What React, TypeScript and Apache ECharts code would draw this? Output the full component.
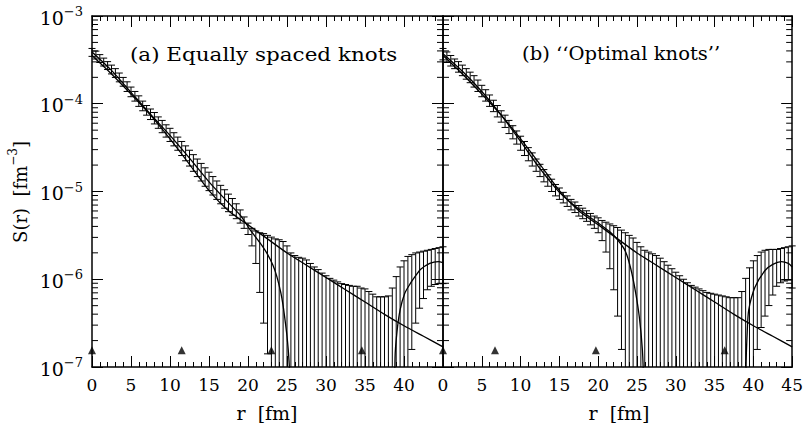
import React, { useEffect, useRef } from "react";
import * as echarts from "echarts";

const FONT = "DejaVu Serif";

// r grid of the imaged source points [fm]
const rGrid = [0,0.5,1,1.5,2,2.5,3,3.5,4,4.5,5,5.5,6,6.5,7,7.5,8,8.5,9,9.5,10,10.5,11,11.5,12,12.5,13,13.5,14,14.5,15,15.5,16,16.5,17,17.5,18,18.5,19,19.5,20,20.5,21,21.5,22,22.5,23,23.5,24,24.5,25,25.5,26,26.5,27,27.5,28,28.5,29,29.5,30,30.5,31,31.5,32,32.5,33,33.5,34,34.5,35,35.5,36,36.5,37,37.5,38,38.5,39,39.5,40,40.5,41,41.5,42,42.5,43,43.5,44,44.5,45];

// panel (a): log10 of upper / lower ends of the error bars (null = below 1e-7)
const logUpperA = [
  -3.37,-3.40,-3.44,-3.48,-3.52,-3.56,-3.60,-3.65,-3.70,-3.75,
  -3.81,-3.86,-3.91,-3.97,-4.02,-4.06,-4.10,-4.15,-4.19,-4.24,
  -4.28,-4.33,-4.38,-4.43,-4.48,-4.53,-4.58,-4.63,-4.68,-4.73,
  -4.78,-4.83,-4.88,-4.93,-4.98,-5.03,-5.08,-5.14,-5.21,-5.29,
  -5.36,-5.42,-5.45,-5.47,-5.48,-5.50,-5.52,-5.54,-5.55,-5.57,
  -5.62,-5.70,-5.73,-5.75,-5.76,-5.78,-5.82,-5.86,-5.89,-5.93,
  -5.96,-5.99,-6.01,-6.03,-6.05,-6.06,-6.07,-6.08,-6.08,-6.10,
  -6.11,-6.14,-6.17,-6.20,-6.20,-6.20,-6.19,-6.10,-5.97,-5.86,
  -5.79,-5.74,-5.72,-5.70,-5.69,-5.68,-5.67,-5.66,-5.65,-5.64,
  -5.63
];
const logLowerA = [
  -3.46,-3.49,-3.53,-3.57,-3.61,-3.66,-3.70,-3.75,-3.80,-3.86,
  -3.92,-3.97,-4.03,-4.08,-4.13,-4.18,-4.23,-4.28,-4.33,-4.38,
  -4.43,-4.48,-4.53,-4.59,-4.65,-4.71,-4.77,-4.83,-4.88,-4.94,
  -4.99,-5.04,-5.09,-5.14,-5.19,-5.23,-5.27,-5.31,-5.36,-5.42,
  -5.49,-5.62,-5.82,-6.15,-6.50,-6.85,
  null,null,null,null,null,null,null,null,null,null,
  null,null,null,null,null,null,null,null,null,null,
  null,null,null,null,null,null,null,null,null,null,
  null,null,null,null,null,null,
  -6.80,-6.50,-6.33,-6.22,-6.12,-6.08,-6.06,-6.05,-6.05
];

// panel (b)
const logUpperB = [
  -3.37,-3.41,-3.45,-3.49,-3.52,-3.56,-3.60,-3.64,-3.68,-3.73,
  -3.79,-3.84,-3.90,-3.96,-4.02,-4.08,-4.13,-4.19,-4.25,-4.31,
  -4.37,-4.43,-4.50,-4.56,-4.63,-4.69,-4.75,-4.81,-4.86,-4.92,
  -4.96,-5.01,-5.05,-5.09,-5.12,-5.16,-5.19,-5.22,-5.25,-5.28,
  -5.30,-5.33,-5.35,-5.37,-5.39,-5.41,-5.44,-5.47,-5.50,-5.53,
  -5.58,-5.63,-5.67,-5.69,-5.71,-5.73,-5.76,-5.80,-5.84,-5.88,
  -5.92,-5.96,-6.00,-6.04,-6.07,-6.09,-6.11,-6.13,-6.15,-6.16,
  -6.17,-6.18,-6.19,-6.20,-6.21,-6.21,-6.21,-6.14,-5.99,-5.87,
  -5.79,-5.73,-5.69,-5.67,-5.66,-5.66,-5.66,-5.65,-5.64,-5.63,
  -5.62
];
const logLowerB = [
  -3.50,-3.53,-3.57,-3.60,-3.64,-3.68,-3.72,-3.76,-3.81,-3.86,
  -3.92,-3.97,-4.03,-4.09,-4.15,-4.21,-4.27,-4.34,-4.40,-4.46,
  -4.53,-4.59,-4.65,-4.71,-4.77,-4.83,-4.89,-4.94,-5.00,-5.05,
  -5.09,-5.13,-5.17,-5.21,-5.24,-5.28,-5.31,-5.34,-5.38,-5.42,
  -5.47,-5.56,-5.69,-5.88,-6.12,-6.42,-6.80,
  null,null,null,null,null,null,null,null,null,null,
  null,null,null,null,null,null,null,null,null,null,
  null,null,null,null,null,null,null,null,null,null,
  null,null,null,null,
  -6.80,-6.55,-6.42,-6.30,-6.18,-6.08,-6.04,-6.02,-6.01,-6.10
];

// smooth reference curve (same in both panels)
const fitCurveR = [0,2.5,5,7.5,10,12.5,15,17.5,20,22.5,25,27.5,30,32.5,35,37.5,40,42.5,45];
const fitCurveLog = [-3.45,-3.66,-3.89,-4.13,-4.40,-4.69,-4.99,-5.22,-5.38,-5.54,-5.70,-5.84,-5.98,-6.12,-6.26,-6.40,-6.53,-6.65,-6.77];

// spline images (null = negative values, not drawn on the log scale)
const splineAR = [0,2.5,5,7.5,10,12.5,15,17.5,19,20.3,21.5,22.4,23.2,23.7,24.2,24.5,24.8,25.0,25.2,25.35,25.45,32,38.75,38.85,39.1,39.5,40.1,40.8,41.5,42.1,43.3,44.4,45];
const splineALog = [-3.41,-3.62,-3.87,-4.12,-4.36,-4.62,-4.89,-5.13,-5.27,-5.44,-5.58,-5.70,-5.84,-5.97,-6.15,-6.30,-6.50,-6.65,-6.85,-7.10,-8.0,null,-8.0,-6.90,-6.60,-6.35,-6.16,-6.05,-5.96,-5.89,-5.82,-5.80,-5.81];
const splineBR = [0,2.5,5,7.5,10,12.5,15,17.5,20,21.5,22.5,23.5,24.2,24.8,25.3,25.7,25.85,25.95,32,38.95,39.05,39.2,39.4,40.2,41.5,42.5,43.6,44.5,45];
const splineBLog = [-3.43,-3.63,-3.86,-4.13,-4.43,-4.74,-5.01,-5.20,-5.36,-5.46,-5.55,-5.68,-5.88,-6.14,-6.43,-6.81,-7.2,-8.0,null,-8.0,-7.0,-6.61,-6.35,-6.09,-5.90,-5.83,-5.80,-5.82,-5.86];

// knot positions [fm]
const knotsA = [0, 11.5, 23, 34.6];
const knotsB = [0, 6.7, 19.7, 36.3];
const knotMarkY = 1.55e-7;

// log-axis minor tick values
const yMinorTicks = [
  2e-7,3e-7,4e-7,5e-7,6e-7,7e-7,8e-7,9e-7,
  2e-6,3e-6,4e-6,5e-6,6e-6,7e-6,8e-6,9e-6,
  2e-5,3e-5,4e-5,5e-5,6e-5,7e-5,8e-5,9e-5,
  2e-4,3e-4,4e-4,5e-4,6e-4,7e-4,8e-4,9e-4
];

const toVal = (l: number | null) => (l == null ? null : Math.pow(10, l));

function errorBarSeries(xi: number, upper: number[], lower: (number | null)[]) {
  return {
    type: "custom",
    xAxisIndex: xi,
    yAxisIndex: xi,
    z: 2,
    data: rGrid.map((r, i) => [r, toVal(upper[i])]),
    renderItem: (params: any, api: any) => {
      const r = api.value(0);
      const up = api.value(1);
      const lo = toVal(lower[params.dataIndex]);
      const cs = params.coordSys;
      const bottom = cs.y + cs.height;
      const pU = api.coord([r, up]);
      const x = pU[0];
      let yLo = bottom;
      let loCap = false;
      if (lo != null) {
        const pL = api.coord([r, lo]);
        if (pL[1] < bottom) {
          yLo = pL[1];
          loCap = true;
        }
      }
      const st = { stroke: "#000", lineWidth: 1 };
      const hw = 3.5;
      const children: any[] = [
        { type: "line", shape: { x1: x, y1: pU[1], x2: x, y2: yLo }, style: st },
        { type: "line", shape: { x1: x - hw, y1: pU[1], x2: x + hw, y2: pU[1] }, style: st },
      ];
      if (loCap) children.push({ type: "line", shape: { x1: x - hw, y1: yLo, x2: x + hw, y2: yLo }, style: st });
      return { type: "group", children };
    },
  };
}

function minorTickSeries(xi: number) {
  return {
    type: "custom",
    xAxisIndex: xi,
    yAxisIndex: xi,
    z: 3,
    silent: true,
    data: yMinorTicks.map((v) => [0, v]),
    renderItem: (params: any, api: any) => {
      const y = api.coord([0, api.value(1)])[1];
      const cs = params.coordSys;
      const st = { stroke: "#000", lineWidth: 1 };
      return {
        type: "group",
        children: [
          { type: "line", shape: { x1: cs.x, y1: y, x2: cs.x + 6, y2: y }, style: st },
          { type: "line", shape: { x1: cs.x + cs.width - 6, y1: y, x2: cs.x + cs.width, y2: y }, style: st },
        ],
      };
    },
  };
}

function lineSeries(xi: number, rs: number[], ls: (number | null)[]) {
  return {
    type: "line",
    xAxisIndex: xi,
    yAxisIndex: xi,
    z: 4,
    showSymbol: false,
    smooth: 0.25,
    connectNulls: false,
    data: rs.map((r, i) => [r, toVal(ls[i])]),
    lineStyle: { color: "#000", width: 1.3 },
  };
}

function knotSeries(xi: number, knots: number[]) {
  return {
    type: "scatter",
    xAxisIndex: xi,
    yAxisIndex: xi,
    z: 5,
    clip: false,
    symbol: "triangle",
    symbolSize: [8, 8],
    itemStyle: { color: "#000" },
    data: knots.map((k) => [k, knotMarkY]),
  };
}

function makeX(gridIndex: number, position: string, labels: boolean, hideLast: boolean) {
  return {
    type: "value",
    gridIndex,
    position,
    min: 0,
    max: 45,
    interval: 5,
    axisLine: { show: true, onZero: false, lineStyle: { color: "#000", width: 1.5 } },
    axisTick: { show: true, inside: true, length: 11, lineStyle: { color: "#000", width: 1 } },
    minorTick: { show: true, splitNumber: 5, length: 5, lineStyle: { color: "#000", width: 1 } },
    splitLine: { show: false },
    minorSplitLine: { show: false },
    axisLabel: {
      show: labels,
      fontFamily: FONT,
      fontSize: 17,
      color: "#000",
      margin: 9,
      formatter: (v: number) => (hideLast && v === 45 ? "" : String(v)),
    },
  };
}

function makeY(gridIndex: number, position: string, labels: boolean) {
  return {
    type: "log",
    logBase: 10,
    gridIndex,
    position,
    min: 1e-7,
    max: 1e-3,
    axisLine: { show: true, onZero: false, lineStyle: { color: "#000", width: 1.5 } },
    axisTick: { show: true, inside: true, length: 11, lineStyle: { color: "#000", width: 1 } },
    splitLine: { show: false },
    axisLabel: {
      show: labels,
      margin: 9,
      formatter: (v: number) => {
        const e = Math.round(Math.log10(v));
        return `{b|10}{s|\u2212${Math.abs(e)}}`;
      },
      rich: {
        b: { fontFamily: FONT, fontSize: 19, color: "#000", lineHeight: 22, verticalAlign: "bottom" },
        s: { fontFamily: FONT, fontSize: 13, color: "#000", lineHeight: 22, verticalAlign: "top" },
      },
    },
  };
}

function txt(x: number, y: number, text: string, size: number, align = "left", sx = 1) {
  return {
    type: "text",
    x,
    y,
    z: 10,
    scaleX: sx,
    style: {
      text,
      fontFamily: FONT,
      fontSize: size,
      fill: "#000",
      align,
      textAlign: align,
      verticalAlign: "middle",
      textVerticalAlign: "middle",
    },
  };
}

const option = {
  animation: false,
  backgroundColor: "#fff",
  grid: [
    { left: 92, top: 16, width: 351, height: 351 },
    { left: 443, top: 16, width: 351, height: 351 },
  ],
  xAxis: [
    makeX(0, "bottom", true, true),
    makeX(0, "top", false, false),
    makeX(1, "bottom", true, false),
    makeX(1, "top", false, false),
  ],
  yAxis: [makeY(0, "left", true), makeY(0, "right", false), makeY(1, "left", false), makeY(1, "right", false)],
  series: [
    errorBarSeries(0, logUpperA, logLowerA),
    minorTickSeries(0),
    lineSeries(0, fitCurveR, fitCurveLog),
    lineSeries(0, splineAR, splineALog),
    knotSeries(0, knotsA),
    { ...errorBarSeries(0, logUpperB, logLowerB), xAxisIndex: 2, yAxisIndex: 2 },
    { ...minorTickSeries(0), xAxisIndex: 2, yAxisIndex: 2 },
    { ...lineSeries(0, fitCurveR, fitCurveLog), xAxisIndex: 2, yAxisIndex: 2 },
    { ...lineSeries(0, splineBR, splineBLog), xAxisIndex: 2, yAxisIndex: 2 },
    { ...knotSeries(0, knotsB), xAxisIndex: 2, yAxisIndex: 2 },
  ],
  graphic: [
    txt(130, 54, "(a) Equally spaced knots", 19, "left", 1.13),
    txt(522, 54, "(b) \u2018\u2018Optimal knots\u2019\u2019", 19, "left", 1.03),
    txt(267, 413, "r  [fm]", 19, "center"),
    txt(619, 413, "r  [fm]", 19, "center"),
    {
      type: "text",
      x: 18,
      y: 192,
      rotation: Math.PI / 2,
      z: 10,
      style: {
        text: "{n|S(r)  [fm}{s|\u22123}{n|]}",
        align: "center",
        textAlign: "center",
        verticalAlign: "middle",
        textVerticalAlign: "middle",
        rich: {
          n: { fontFamily: FONT, fontSize: 18, fill: "#000", color: "#000", lineHeight: 22, verticalAlign: "bottom" },
          s: { fontFamily: FONT, fontSize: 12, fill: "#000", color: "#000", lineHeight: 22, verticalAlign: "top" },
        },
      },
    },
  ],
};

export default function App() {
  const ref = useRef<HTMLDivElement>(null);
  useEffect(() => {
    const chart = echarts.init(ref.current!, null, { renderer: "svg" });
    chart.setOption(option as any);
    return () => chart.dispose();
  }, []);
  return (
    <div
      ref={ref}
      style={{ position: "absolute", left: 0, top: 0, width: 806, height: 430, background: "#fff" }}
    />
  );
}
